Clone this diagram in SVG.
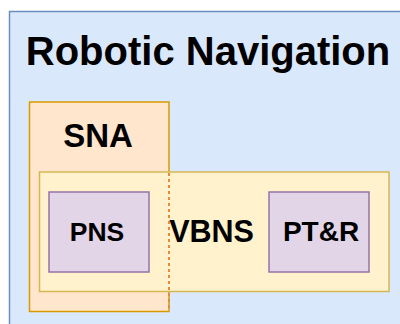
<svg xmlns="http://www.w3.org/2000/svg" width="400" height="324" viewBox="0 0 400 324">
<style>
text{font-family:"Liberation Sans",Arial,sans-serif;font-weight:bold;fill:#000;text-anchor:middle}
.inner{fill:#e1d5e7;stroke:#9673a6;stroke-width:1.5}
</style>
<rect x="0" y="0" width="400" height="324" fill="#ffffff"/>
<g id="robotic-navigation">
<rect x="9.5" y="11.5" width="400" height="320" fill="#dae8fc" stroke="#6c8ebf" stroke-width="1.5"/>
<text x="208" y="65" font-size="40">Robotic Navigation</text>
</g>
<g id="sna">
<rect x="29.5" y="102" width="139.5" height="209.5" fill="#ffe6cc" stroke="#d79b00" stroke-width="1.5"/>
<text x="98" y="147" font-size="33">SNA</text>
</g>
<g id="vbns">
<rect x="39.5" y="172" width="349.5" height="119.5" fill="#fff2cc" stroke="#d6b656" stroke-width="1.5"/>
<text x="211.5" y="242" font-size="30.5">VBNS</text>
</g>
<g id="pns">
<rect class="inner" x="49" y="192" width="100" height="80"/>
<text x="97" y="241" font-size="26.5">PNS</text>
</g>
<g id="ptr">
<rect class="inner" x="269" y="192" width="100" height="80"/>
<text x="321" y="241" font-size="28">PT&amp;R</text>
</g>
<g id="connectors">
<line x1="169" y1="173" x2="169" y2="311" stroke="#e5893a" stroke-width="2" stroke-dasharray="3,3"/>
</g>
</svg>
